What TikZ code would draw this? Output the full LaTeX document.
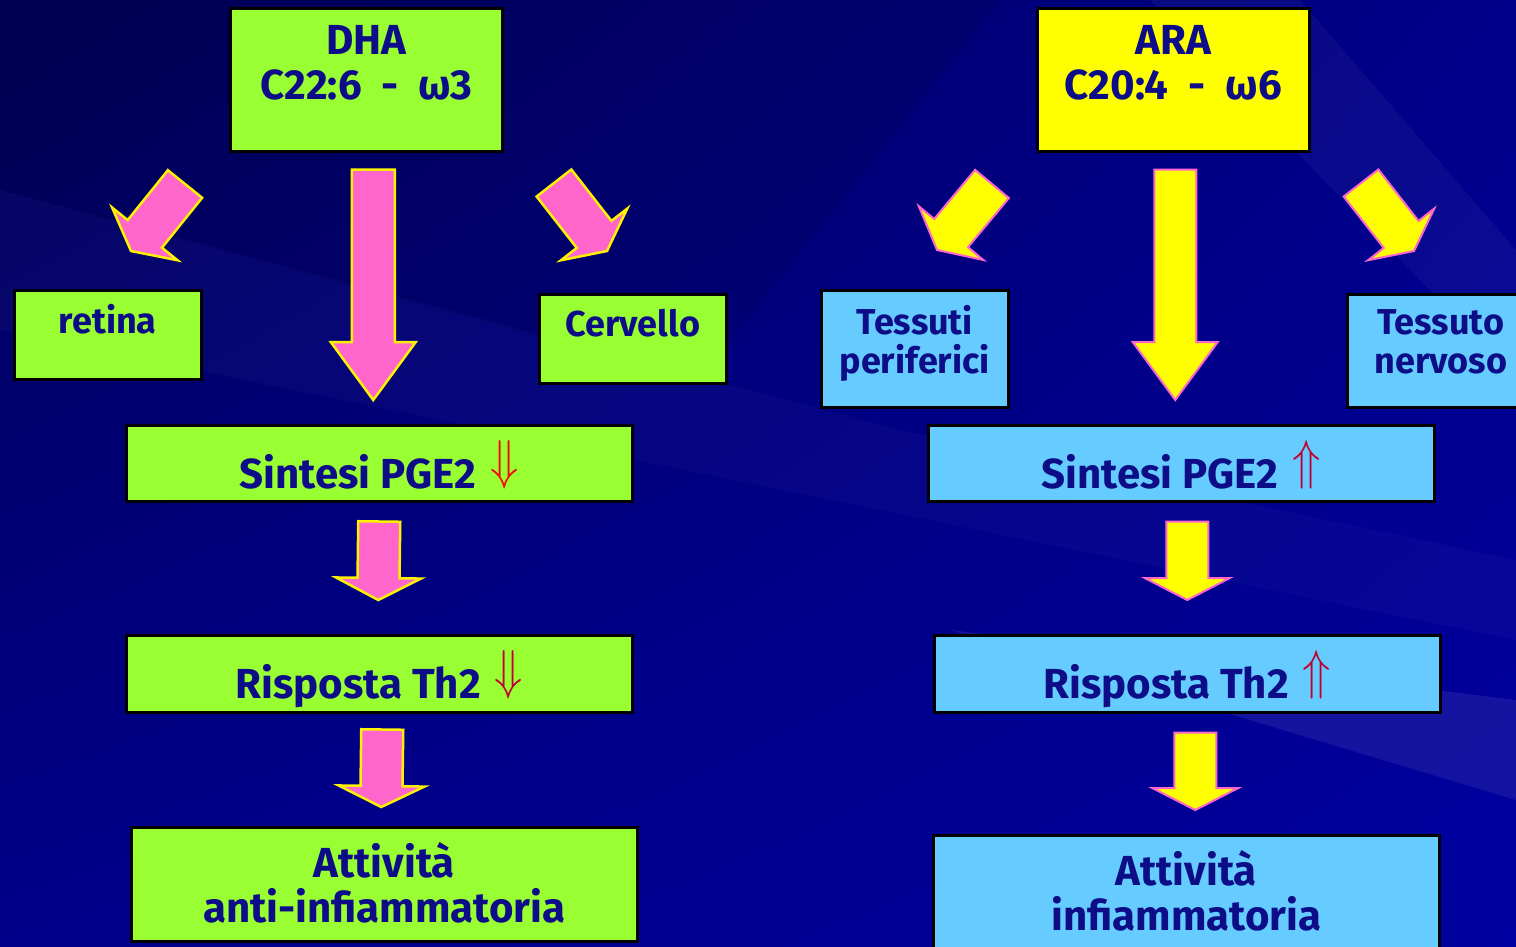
\RequirePackage{fix-cm}
\documentclass[tikz,border=0pt]{standalone}
\usepackage{fontspec}
\setmainfont{Fira Sans}
\usepackage{graphicx}
\usetikzlibrary{calc, shadings}

\definecolor{dhagreen}{HTML}{99FF33}
\definecolor{arayellow}{HTML}{FFFF00}
\definecolor{tissueblue}{HTML}{66CCFF}
\definecolor{arrowpink}{HTML}{FF66CC}
\definecolor{inkblue}{HTML}{0D0D88}
\definecolor{downred}{HTML}{FF0000}
\definecolor{darkred}{HTML}{C00030}
\definecolor{bgdark}{HTML}{000058}
\definecolor{bgmid}{HTML}{00008A}
\definecolor{bglight}{HTML}{0000A0}

% text of a box: width, height, top gap, lines
\newcommand{\boxtext}[4]{\parbox[c][#2pt][t]{#1pt}{\centering\vspace*{#3pt}#4}}
% block arrow: style, tail, tip, half shaft, half head, head length
\newcommand{\blockarrow}[6]{%
  \path ($(#3)!#6!(#2)$) coordinate (ab);
  \draw[#1] ($(#2)!#4!90:(#3)$) -- ($(ab)!#4!-90:(#2)$) -- ($(ab)!#5!-90:(#2)$)
    -- (#3) -- ($(ab)!#5!90:(#2)$) -- ($(ab)!#4!90:(#2)$) -- ($(#2)!#4!-90:(#3)$) -- cycle;
}
\newcommand{\dn}[1]{\hspace{14pt}\smash{\textcolor{#1}{\raisebox{10pt}{\scalebox{1.1}[1.3]{$\Downarrow$}}}}}
\newcommand{\up}[1]{\hspace{14pt}\smash{\textcolor{#1}{\raisebox{10pt}{\scalebox{1.1}[1.3]{$\Uparrow$}}}}}

\begin{document}
\begin{tikzpicture}[x=1pt, y=-1pt,
    box/.style={draw=black, line width=2.5pt, inner sep=0pt, anchor=north west,
      text=inkblue, font=\bfseries\fontsize{42}{45}\selectfont},
    smallbox/.style={box, font=\bfseries\fontsize{36}{39}\selectfont},
    pinkarrow/.style={fill=arrowpink, draw=yellow, line width=2.5pt},
    yellowarrow/.style={fill=arayellow, draw=arrowpink, line width=2pt}]
    \useasboundingbox (0,0) rectangle (1516,946);
    \clip (0,0) rectangle (1516,946);

    % background
    \shade[upper left=bgdark, upper right=bgmid, lower left=bgmid, lower right=bglight]
      (0,0) rectangle (1516,946);
    \fill[white, opacity=0.025] (0,190) -- (900,430) -- (1516,560) -- (1516,640) -- (0,330) -- cycle;
    \fill[white, opacity=0.08] (950,630) -- (1516,700) -- (1516,800) -- cycle;
    \fill[white, opacity=0.04] (1150,0) -- (1300,0) -- (1516,250) -- (1516,380) -- cycle;
    \fill[black, opacity=0.08] (0,0) -- (1000,0) -- (700,380) -- (0,190) -- cycle;

    % omega-3 side
    \node[box, fill=dhagreen] (dha) at (229,7) {\boxtext{272}{143}{17}{DHA\\C22:6\ \ -\ \ ω3}};
    \node[smallbox, fill=dhagreen] (retina) at (13,289) {\boxtext{187}{89}{14}{retina}};
    \node[smallbox, fill=dhagreen] (cervello) at (538,293) {\boxtext{187}{89}{15}{Cervello}};
    \node[box, fill=dhagreen] (sintL) at (125,424) {\boxtext{506}{76}{29}{Sintesi PGE2\dn{downred}}};
    \node[box, fill=dhagreen] (rispL) at (125,634) {\boxtext{506}{77}{29}{Risposta Th2\dn{darkred}}};
    \node[box, fill=dhagreen] (attL) at (130,826) {\boxtext{506}{114}{15}{Attività\\anti-infiammatoria}};

    % omega-6 side
    \node[box, fill=arayellow] (ara) at (1036,7) {\boxtext{272}{143}{17}{ARA\\C20:4\ \ -\ \ ω6}};
    \node[smallbox, fill=tissueblue] (tessuti) at (820,289) {\boxtext{187}{117}{15}{Tessuti\\periferici}};
    \node[smallbox, fill=tissueblue] (tessuto) at (1346,293) {\boxtext{187}{113}{15}{Tessuto\\nervoso}};
    \node[box, fill=tissueblue] (sintR) at (927,424) {\boxtext{506}{76}{29}{Sintesi PGE2\up{darkred}}};
    \node[box, fill=tissueblue] (rispR) at (933,634) {\boxtext{506}{77}{29}{Risposta Th2\up{darkred}}};
    \node[box, fill=tissueblue] (attR) at (932,834) {\boxtext{506}{126}{15}{Attività\\infiammatoria}};

    % arrow ends
    \coordinate (l0) at ($(dha.south)+(7,17)$);   \coordinate (l1) at ($(sintL.north)+(-6,-24)$);
    \coordinate (l2) at ($(sintL.south)+(0,19)$);  \coordinate (l3) at ($(rispL.north)+(-1,-34)$);
    \coordinate (l4) at ($(rispL.south)+(3,16)$);  \coordinate (l5) at ($(attL.north)+(-3,-19)$);
    \coordinate (r0) at ($(ara.south)+(2,17)$);   \coordinate (r1) at ($(sintR.north)+(-6,-24)$);
    \coordinate (r2) at ($(sintR.south)+(6,19)$);  \coordinate (r3) at ($(rispR.north)+(0,-34)$);
    \coordinate (r4) at ($(rispR.south)+(8,19)$);  \coordinate (r5) at ($(attR.north)+(9,-24)$);
    \coordinate (dl0) at (185,184);  \coordinate (dl1) at (131,251);
    \coordinate (dr0) at (554,183);  \coordinate (dr1) at (607,251);
    \coordinate (el0) at (992,184);  \coordinate (el1) at (937,250);
    \coordinate (er0) at (1361,183); \coordinate (er1) at (1414,251);

    \blockarrow{pinkarrow}{l0}{l1}{21.5pt}{42.5pt}{58pt}
    \blockarrow{pinkarrow}{l2}{l3}{21pt}{42.5pt}{22pt}
    \blockarrow{pinkarrow}{l4}{l5}{21pt}{43pt}{21pt}
    \blockarrow{pinkarrow}{dl0}{dl1}{22pt}{42pt}{22pt}
    \blockarrow{pinkarrow}{dr0}{dr1}{22pt}{42pt}{21pt}

    \blockarrow{yellowarrow}{r0}{r1}{21pt}{42.5pt}{58pt}
    \blockarrow{yellowarrow}{r2}{r3}{21pt}{42.5pt}{22pt}
    \blockarrow{yellowarrow}{r4}{r5}{21pt}{43pt}{22pt}
    \blockarrow{yellowarrow}{el0}{el1}{22pt}{42pt}{22pt}
    \blockarrow{yellowarrow}{er0}{er1}{22pt}{42pt}{21pt}
\end{tikzpicture}
\end{document}
